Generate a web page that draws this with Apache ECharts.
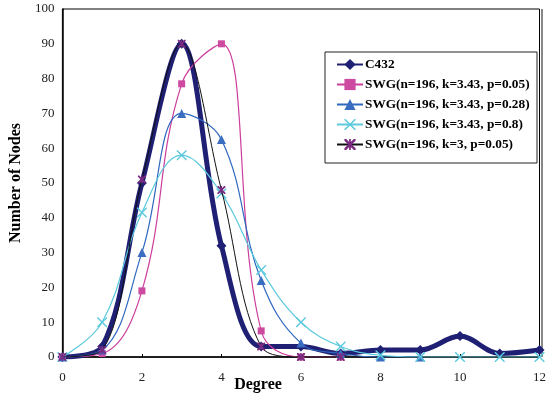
<!DOCTYPE html>
<html>
<head>
<meta charset="utf-8">
<script src="https://cdn.jsdelivr.net/npm/echarts@6/dist/echarts.min.js"></script>
<style>
  html, body { margin: 0; padding: 0; background: #fff; }
  #chart { width: 549px; height: 399px; }
</style>
</head>
<body>
<div id="chart"></div>
<script>
// degree values on the x axis
const degrees = [0, 1, 2, 3, 4, 5, 6, 7, 8, 9, 10, 11, 12];
const xTicks = [0, 2, 4, 6, 8, 10, 12];
const yTicks = [0, 10, 20, 30, 40, 50, 60, 70, 80, 90, 100];

const c432 = [0, 3, 50, 90, 32, 3, 3, 1, 2, 2, 6, 1, 2];
const swgP005 = [0, 1, 19, 78.5, 90, 7.5, 0, 0];
const swgP028 = [0, 2, 30, 70, 62.5, 22, 4, 1, 0, 0];
const swgP08 = [0, 10, 41.5, 58, 47, 25, 10, 3, 0.5, 0, 0, 0, 0];
const swgK3 = [0, 2, 51, 90, 48, 3, 0, 0];

const names = [
  'C432',
  'SWG(n=196, k=3.43, p=0.05)',
  'SWG(n=196, k=3.43, p=0.28)',
  'SWG(n=196, k=3.43, p=0.8)',
  'SWG(n=196, k=3, p=0.05)'
];

// x-shaped and asterisk markers (filled paths)
const xMark = 'path://M0,0 L1,0 L5,4 L9,0 L10,0 L10,1 L6,5 L10,9 L10,10 L9,10 L5,6 L1,10 L0,10 L0,9 L4,5 L0,1 Z';
const starMark = 'path://M0,0 L1.6,0 L5,3.4 L8.4,0 L10,0 L10,1.6 L6.6,5 L10,8.4 L10,10 L8.4,10 L5,6.6 L1.6,10 L0,10 L0,8.4 L3.4,5 L0,1.6 Z M4.2,0 L5.8,0 L5.8,10 L4.2,10 Z';

const pairs = arr => arr.map((v, i) => [degrees[i], v]);

const chart = echarts.init(document.getElementById('chart'));
const serif = '"Liberation Serif", "DejaVu Serif", serif';

chart.setOption({
  animation: false,
  grid: {
    left: 61, top: 9, right: 7, bottom: 42,
    show: true, borderColor: '#000', borderWidth: 1
  },
  legend: {
    orient: 'vertical',
    left: 336, top: 58, padding: 0,
    itemWidth: 26, itemHeight: 14, itemGap: 7,
    textStyle: { fontFamily: serif, fontWeight: 'bold', fontSize: 13.3, color: '#000', padding: [0, 0, 0, -3] },
    data: names
  },
  graphic: [
    {
      type: 'rect', shape: { x: 325, y: 52, width: 212, height: 111 },
      style: { fill: 'none', stroke: '#222', lineWidth: 1 }, z: -1
    },
    {
      type: 'line', shape: { x1: 542, y1: 9, x2: 542, y2: 357 },
      style: { stroke: '#888', lineWidth: 2 }
    },
    {
      type: 'text', x: 258, y: 385,
      style: { text: 'Degree', font: 'bold 16px ' + serif, fill: '#000', align: 'center', verticalAlign: 'middle' }
    }
  ],
  xAxis: {
    type: 'value', min: 0, max: 12, interval: 2,
    axisLine: { lineStyle: { color: '#000', width: 1.5 } },
    axisTick: { inside: true, length: 3, lineStyle: { color: '#000' } },
    splitLine: { show: false },
    axisLabel: { fontFamily: serif, fontSize: 13, color: '#222', margin: 14 }
  },
  yAxis: {
    type: 'value', min: 0, max: 100, interval: 10,
    name: 'Number of Nodes', nameLocation: 'middle', nameGap: 29,
    nameTextStyle: { fontFamily: serif, fontWeight: 'bold', fontSize: 16, color: '#000' },
    axisLine: { show: true, lineStyle: { color: '#000', width: 1.5 } },
    axisTick: { show: false },
    splitLine: { show: false },
    axisLabel: { fontFamily: serif, fontSize: 13, color: '#222', margin: 8 }
  },
  series: [
    {
      name: names[0], type: 'line', data: pairs(c432), smooth: 0.35,
      symbol: 'diamond', symbolSize: 10,
      lineStyle: { color: '#1f1f74', width: 5 },
      itemStyle: { color: '#1f1f74' }, z: 2
    },
    {
      name: names[1], type: 'line', data: pairs(swgP005), smooth: 0.4,
      symbol: 'rect', symbolSize: 7,
      lineStyle: { color: '#cc3d9c', width: 1.2 },
      itemStyle: { color: '#cc4aa0' }, z: 3
    },
    {
      name: names[2], type: 'line', data: pairs(swgP028), smooth: 0.4,
      symbol: 'triangle', symbolSize: 9,
      lineStyle: { color: '#2f68bf', width: 1.2 },
      itemStyle: { color: '#3a6cc0' }, z: 4
    },
    {
      name: names[3], type: 'line', data: pairs(swgP08), smooth: 0.4,
      symbol: xMark, symbolSize: 10,
      lineStyle: { color: '#5cc9dc', width: 1.2 },
      itemStyle: { color: '#5cc9dc' }, z: 5
    },
    {
      name: names[4], type: 'line', data: pairs(swgK3), smooth: 0.35,
      symbol: starMark, symbolSize: 8,
      lineStyle: { color: '#111', width: 1 },
      itemStyle: { color: '#7a2a80' }, z: 6
    }
  ]
});
</script>
</body>
</html>
